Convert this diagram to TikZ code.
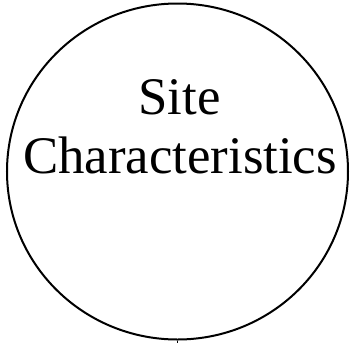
\documentclass[tikz,border=0pt]{standalone}
\usepackage{fontspec}
\setmainfont{Liberation Serif}
\usetikzlibrary{shapes.geometric}

\begin{document}
\begin{tikzpicture}[x=1bp, y=-1bp]
    \tikzstyle{bubble}=[ellipse, draw, line width=2bp, minimum width=341bp, minimum height=336bp, inner sep=0pt]
    \tikzstyle{word}=[font=\fontsize{53}{59}\selectfont, inner sep=0pt, anchor=base]

    \useasboundingbox (0,0) rectangle (356,343);

    \node[bubble] (site) at (177.5,171.5) {};
    \node[word] (top) at (179.5,114) {Site};
    \node[word] (bottom) at (180,173) {Characteristics};

    \coordinate (stub) at (site.south |- 0,343);
    \draw[line width=1.5bp] (site.south) -- (stub);
\end{tikzpicture}
\end{document}
